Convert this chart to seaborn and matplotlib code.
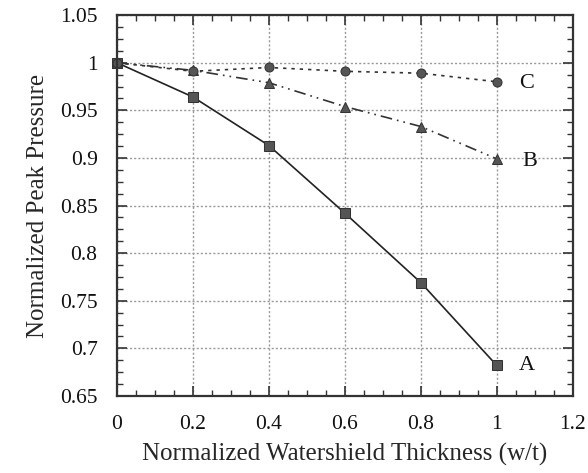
import matplotlib
matplotlib.use("Agg")
import matplotlib.pyplot as plt
from matplotlib.ticker import MultipleLocator
import seaborn as sns
import pandas as pd

thickness = [0.0, 0.2, 0.4, 0.6, 0.8, 1.0]
pressure_a = [1.000, 0.964, 0.913, 0.842, 0.769, 0.682]
pressure_b = [1.000, 0.992, 0.979, 0.954, 0.933, 0.899]
pressure_c = [1.000, 0.991, 0.995, 0.991, 0.989, 0.980]
curve_names = ["A", "B", "C"]

df = pd.DataFrame({
    "w/t": thickness * 3,
    "pressure": pressure_a + pressure_b + pressure_c,
    "curve": [n for n in curve_names for _ in thickness],
})

sns.set_style("white")
plt.rcParams["font.family"] = ["Liberation Serif", "DejaVu Serif"]

fig = plt.figure(figsize=(5.88, 4.73), dpi=100)
ax = fig.add_axes([0.199, 0.163, 0.775, 0.805])

sns.lineplot(
    data=df, x="w/t", y="pressure", hue="curve", style="curve",
    palette={"A": "#222222", "B": "#333333", "C": "#333333"},
    markers={"A": "s", "B": "^", "C": "o"},
    dashes={"A": "", "B": (7, 3, 1, 3, 1, 3), "C": (2, 3)},
    markersize=6.5, linewidth=1.2, legend=False, ax=ax,
)
for line in ax.get_lines():
    line.set_markerfacecolor("#555555")
    line.set_markeredgecolor("#333333")
    line.set_clip_on(False)

# curve labels at the right end
label_pos = {"A": (1.079, 0.682), "B": (1.087, 0.896), "C": (1.079, 0.978)}
for name, (lx, ly) in label_pos.items():
    ax.text(lx, ly, name, fontsize=16, ha="center", va="center", color="#111111")

ax.set_xlim(0, 1.2)
ax.set_ylim(0.65, 1.05)
ax.xaxis.set_minor_locator(MultipleLocator(0.05))
ax.yaxis.set_minor_locator(MultipleLocator(0.0125))
ax.set_xticks([0, 0.2, 0.4, 0.6, 0.8, 1.0, 1.2])
ax.set_xticklabels(["0", "0.2", "0.4", "0.6", "0.8", "1", "1.2"])
ax.set_yticks([0.65, 0.7, 0.75, 0.8, 0.85, 0.9, 0.95, 1.0, 1.05])
ax.set_yticklabels(["0.65", "0.7", "0.75", "0.8", "0.85", "0.9", "0.95", "1", "1.05"])

ax.tick_params(which="both", direction="in", top=True, right=True,
               bottom=True, left=True, colors="#333333", labelcolor="#111111")
ax.tick_params(which="major", length=7, width=1.2, labelsize=15.5)
ax.tick_params(axis="x", which="major", pad=14)
ax.tick_params(axis="y", which="major", pad=14)
ax.tick_params(which="minor", length=4, width=1.0)

ax.grid(True, which="major", linestyle=(0, (1.5, 1.5)), color="#999999", linewidth=1.0)
ax.set_axisbelow(True)
for sp in ax.spines.values():
    sp.set_color("#333333")
    sp.set_linewidth(1.6)
    sp.set_visible(True)

ax.set_xlabel("Normalized Watershield Thickness (w/t)", fontsize=18, labelpad=6)
ax.set_ylabel("Normalized Peak Pressure", fontsize=18, labelpad=8)

fig.savefig("out.png", dpi=100)
